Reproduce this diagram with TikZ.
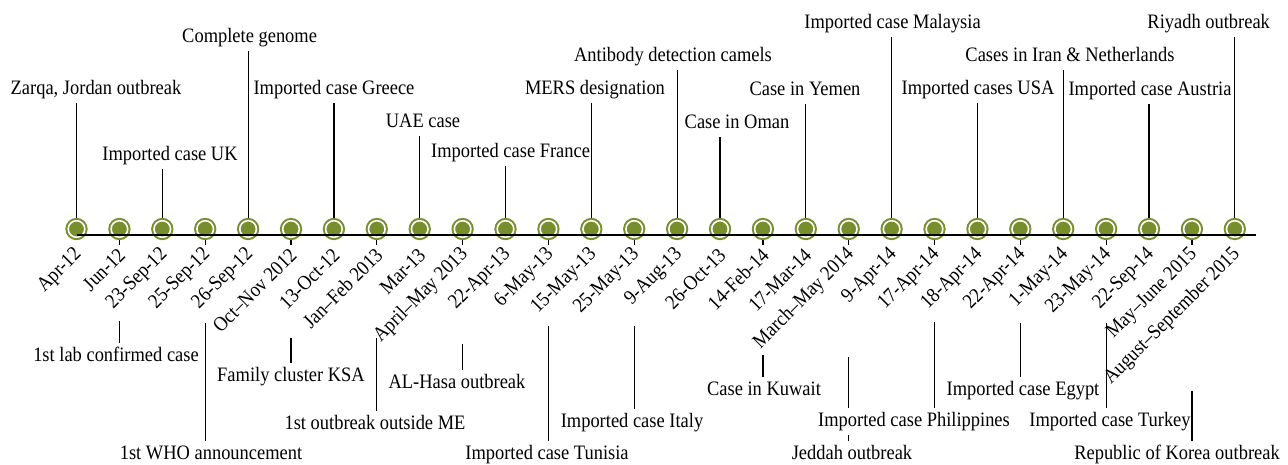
\documentclass[tikz,border=0pt]{standalone}
\usepackage{fontspec}
\setmainfont{Liberation Serif}
\definecolor{dotgreen}{RGB}{118,142,44}
\tikzstyle{dot} = [circle, minimum size=16.6pt, inner sep=0pt, outer sep=2.8pt, fill=dotgreen, draw=dotgreen, line width=2pt, double=white, double distance=1.6pt]
\tikzstyle{date} = [rotate=45, xscale=0.9, anchor=east, inner sep=1pt]
\tikzstyle{event} = [xscale=0.9, text height=14pt, text depth=4.5pt, inner xsep=1pt, inner ysep=4pt]
\tikzstyle{stem} = [line width=1.2pt]
\tikzstyle{axis} = [line width=1.4pt]

\begin{document}
\begin{tikzpicture}[x=1pt, y=-1pt, every node/.style={font=\fontsize{20.5}{24}\selectfont}]

    \useasboundingbox (0,0) rectangle (1288,464);

    % dots and dates
    \foreach \when [count=\i] in {Apr-12, Jun-12, 23-Sep-12, 25-Sep-12, 26-Sep-12, Oct–Nov 2012, 13-Oct-12, Jan–Feb 2013, Mar-13, April–May 2013, 22-Apr-13, 6-May-13, 15-May-13, 25-May-13, 9-Aug-13, 26-Oct-13, 14-Feb-14, 17-Mar-14, March–May 2014, 9-Apr-14, 17-Apr-14, 18-Apr-14, 22-Apr-14, 1-May-14, 23-May-14, 22-Sep-14, May–June 2015, August–September 2015} {
        \node (d\i) [dot] at ({76.5+42.9*(\i-1)},229) {};
        \node (date\i) [date] at ({79.5+42.9*(\i-1)},251) {\when};
    }

    \coordinate (axis_start) at (76.5,235);
    \coordinate (axis_end) at (1256,235);
    \draw [axis] (axis_start) -- (axis_end);

    % events above the line
    \node (zarqa) [event, anchor=south] at (96,103) {Zarqa, Jordan outbreak};
    \node (uk_case) [event, anchor=south] at (170,169) {Imported case UK};
    \node (genome) [event, anchor=south] at (249.6,51) {Complete genome};
    \node (greece) [event, anchor=south] at (334,103) {Imported case Greece};
    \node (uae) [event, anchor=south] at (423,136) {UAE case};
    \node (france) [event, anchor=south] at (510.6,166) {Imported case France};
    \node (mers) [event, anchor=south] at (595,103) {MERS designation};
    \node (camels) [event, anchor=south] at (673,70) {Antibody detection camels};
    \node (oman) [event, anchor=south] at (737,137) {Case in Oman};
    \node (yemen) [event, anchor=south] at (805,104) {Case in Yemen};
    \node (malaysia) [event, anchor=south] at (892.6,37) {Imported case Malaysia};
    \node (usa) [event, anchor=south] at (978,103) {Imported cases USA};
    \node (iran) [event, anchor=south] at (1070,70) {Cases in Iran \& Netherlands};
    \node (austria) [event, anchor=south] at (1150,104) {Imported case Austria};
    \node (riyadh) [event, anchor=south] at (1208.7,37) {Riyadh outbreak};

    \draw [stem] (d1.north) -- (d1 |- zarqa.south);
    \draw [stem] (d3.north) -- (d3 |- uk_case.south);
    \draw [stem] (d5.north) -- (d5 |- genome.south);
    \draw [stem] (d7.north) -- (d7 |- greece.south);
    \draw [stem] (d9.north) -- (d9 |- uae.south);
    \draw [stem] (d11.north) -- (d11 |- france.south);
    \draw [stem] (d13.north) -- (d13 |- mers.south);
    \draw [stem] (d15.north) -- (d15 |- camels.south);
    \draw [stem] (d16.north) -- (d16 |- oman.south);
    \draw [stem] (d18.north) -- (d18 |- yemen.south);
    \draw [stem] (d20.north) -- (d20 |- malaysia.south);
    \draw [stem] (d22.north) -- (d22 |- usa.south);
    \draw [stem] (d24.north) -- (d24 |- iran.south);
    \draw [stem] (d26.north) -- (d26 |- austria.south);
    \draw [stem] (d28.north) -- (d28 |- riyadh.south);

    % events below the line
    \foreach \i in {2,4,6,8,10,12,14,17,19,21,23,25,27}
        \draw [stem] (d\i.south) -- ++(0,5);

    \node (lab_case) [event, anchor=north] at (116,343) {1st lab confirmed case};
    \node (who) [event, anchor=north] at (211,441) {1st WHO announcement};
    \node (family) [event, anchor=north] at (291,363) {Family cluster KSA};
    \node (outside_me) [event, anchor=north] at (375,411) {1st outbreak outside ME};
    \node (alhasa) [event, anchor=north] at (457,370) {AL-Hasa outbreak};
    \node (tunisia) [event, anchor=north] at (547,441) {Imported case Tunisia};
    \node (italy) [event, anchor=north] at (632,409) {Imported case Italy};
    \node (kuwait) [event, anchor=north] at (764,377) {Case in Kuwait};
    \node (jeddah) [event, anchor=north] at (852,441) {Jeddah outbreak};
    \node (philippines) [event, anchor=north] at (914,408) {Imported case Philippines};
    \node (egypt) [event, anchor=north] at (1023,377) {Imported case Egypt};
    \node (turkey) [event, anchor=north] at (1110,408) {Imported case Turkey};
    \node (korea) [event, anchor=north] at (1177,441) {Republic of Korea outbreak};

    \coordinate (lab_top) at (d2 |- 0,321);
    \coordinate (who_top) at (d4 |- 0,323);
    \coordinate (family_top) at (d6 |- 0,338);
    \coordinate (me_top) at (d8 |- 0,338);
    \coordinate (alhasa_top) at (d10 |- 0,344);
    \coordinate (tunisia_top) at (d12 |- 0,326);
    \coordinate (italy_top) at (d14 |- 0,326);
    \coordinate (kuwait_top) at (d17 |- 0,355);
    \coordinate (jeddah_top) at (d19 |- 0,357);
    \coordinate (philippines_top) at (d21 |- 0,322);
    \coordinate (egypt_top) at (d23 |- 0,323);
    \coordinate (turkey_top) at (d25 |- 0,323);
    \coordinate (korea_top) at (d27 |- 0,391);

    \draw [stem] (lab_top) -- (lab_top |- lab_case.north);
    \draw [stem] (who_top) -- (who_top |- who.north);
    \draw [stem] (family_top) -- (family_top |- family.north);
    \draw [stem] (me_top) -- (me_top |- outside_me.north);
    \draw [stem] (alhasa_top) -- (alhasa_top |- alhasa.north);
    \draw [stem] (tunisia_top) -- (tunisia_top |- tunisia.north);
    \draw [stem] (italy_top) -- (italy_top |- italy.north);
    \draw [stem] (kuwait_top) -- (kuwait_top |- kuwait.north);
    \draw [stem] (jeddah_top) -- (jeddah_top |- philippines.north);
    \draw [stem] (jeddah_top |- philippines.south) -- (jeddah_top |- jeddah.north);
    \draw [stem] (philippines_top) -- (philippines_top |- philippines.north);
    \draw [stem] (egypt_top) -- (egypt_top |- egypt.north);
    \draw [stem] (turkey_top) -- (turkey_top |- turkey.north);
    \draw [stem] (korea_top) -- (korea_top |- korea.north);

\end{tikzpicture}
\end{document}
